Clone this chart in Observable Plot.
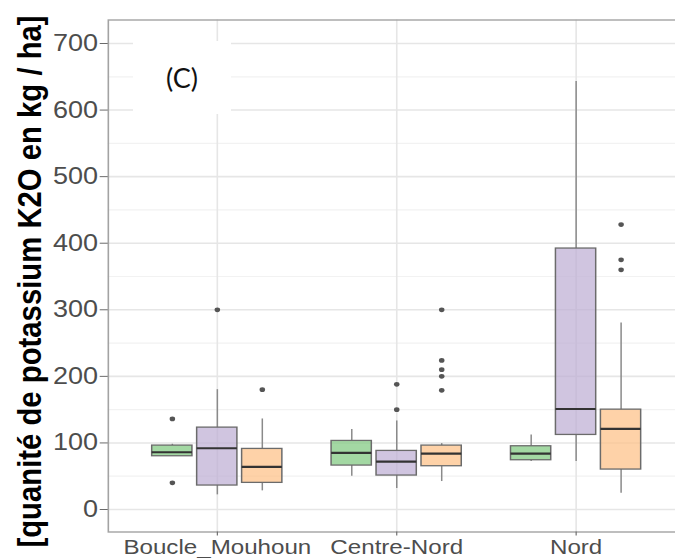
<!DOCTYPE html>
<html>
<head>
<meta charset="utf-8">
<script src="https://cdn.jsdelivr.net/npm/d3@7"></script>
<script src="https://cdn.jsdelivr.net/npm/@observablehq/plot@0.6"></script>
<style>
  html, body { margin: 0; padding: 0; background: #fff; }
  #wrap { position: relative; width: 675px; height: 558px; overflow: hidden; background: #fff; }
  #wrap svg { position: absolute; left: 0; top: 0; font-family: "Liberation Sans", Arial, sans-serif; }
  #tag { position: absolute; left: 133px; top: 41px; width: 98px; height: 73px; background: #fff;
         display: flex; align-items: center; justify-content: center;
         font-family: Lato, "Open Sans", sans-serif; font-size: 27px; color: #111; }
</style>
</head>
<body>
<div id="wrap"><div id="tag">(C)</div></div>
<script>
// ---- data ----
const regions = ["Boucle_Mouhoun", "Centre-Nord", "Nord"];
const series = ["Série 1", "Série 2", "Série 3"];
const seriesColors = ["#7fc97f", "#beaed4", "#fdc086"];
const yTicks = [0, 100, 200, 300, 400, 500, 600, 700];
const yMinorTicks = [50, 150, 250, 350, 450, 550, 650];
const yLabel = "[quanité de potassium K2O en kg / ha]";

// box statistics per series, ordered like `regions`
const lowerWhisker = [[80, 50, 72], [22, 31.5, 72], [28, 42, 24.5]];
const quartile1    = [[80, 66, 74], [36, 51, 112], [40, 65, 60]];
const medianValue  = [[86, 85, 84], [92, 72, 151], [64, 84, 121]];
const quartile3    = [[96, 103, 95], [123, 88, 392], [91, 96, 150]];
const upperWhisker = [[98, 120, 112], [180, 133, 643], [136, 99, 280]];

// outliers: [region, value]
const outliers1 = [["Boucle_Mouhoun", 136], ["Boucle_Mouhoun", 40]];
const outliers2 = [["Boucle_Mouhoun", 300], ["Centre-Nord", 150], ["Centre-Nord", 188]];
const outliers3 = [["Boucle_Mouhoun", 180], ["Centre-Nord", 179], ["Centre-Nord", 200],
                   ["Centre-Nord", 210], ["Centre-Nord", 224], ["Centre-Nord", 300],
                   ["Nord", 360], ["Nord", 375], ["Nord", 428]];
const outlierSets = [outliers1, outliers2, outliers3];

// ---- build tables ----
const boxes = series.flatMap((s, k) => regions.map((r, i) => ({
  series: s, k, region: r,
  lo: lowerWhisker[k][i], q1: quartile1[k][i], med: medianValue[k][i],
  q3: quartile3[k][i], hi: upperWhisker[k][i]
})));
const outs = outlierSets.flatMap((set, k) => set.map(([region, value]) => ({k, region, value})));

// ---- layout ----
const stretch = 1.15;           // the reference is stretched horizontally
const H = 558;
const W = 596;                  // internal width (panel runs past the right edge)
const dodge = 39.1;

const seriesMarks = series.flatMap((s, k) => {
  const d = boxes.filter(b => b.k === k);
  const o = outs.filter(b => b.k === k);
  const dx = (k - 1) * dodge;
  return [
    Plot.ruleX(d, {x: "region", y1: "lo", y2: "q1", stroke: "#8a8a8a", strokeWidth: 1.3, dx}),
    Plot.ruleX(d, {x: "region", y1: "q3", y2: "hi", stroke: "#8a8a8a", strokeWidth: 1.3, dx}),
    Plot.barY(d, {x: "region", y1: "q1", y2: "q3", fill: seriesColors[k], fillOpacity: 0.72,
                  stroke: "#6b6b6b", strokeWidth: 1.3, dx}),
    Plot.tickY(d, {x: "region", y: "med", stroke: "#333", strokeWidth: 2.2, dx}),
    Plot.dot(o, {x: "region", y: "value", r: 2.4, fill: "#555", stroke: null, dx})
  ];
});

const chart = Plot.plot({
  width: W,
  height: H,
  marginLeft: 93.7,
  marginRight: 0,
  marginTop: 19.5,
  marginBottom: 26.5,
  style: {fontFamily: "Liberation Sans, Arial, sans-serif", background: "transparent"},
  x: {type: "band", domain: regions, paddingInner: 0.773, paddingOuter: 0.4865, align: 0.5, axis: null},
  y: {domain: [-33.8, 735.3], axis: null},
  marks: [
    Plot.ruleY(yMinorTicks, {stroke: "#f2f2f2", strokeWidth: 1.2}),
    Plot.ruleY(yTicks, {stroke: "#e6e6e6", strokeWidth: 1.6}),
    Plot.ruleX(regions, {x: d => d, stroke: "#e6e6e6", strokeWidth: 1.4}),
    ...seriesMarks,
    Plot.frame({stroke: "#a3a3a3", strokeWidth: 1.4}),
    Plot.axisY({ticks: yTicks, tickSize: 7, tickPadding: 2, stroke: "#6a6a6a",
                fill: "#4d4d4d", fontSize: 23.5, label: null}),
    Plot.axisX({tickSize: 4, tickPadding: 3, stroke: "#6a6a6a", fill: "#4d4d4d",
                fontSize: 21, label: null}),
    Plot.text([yLabel], {text: d => d, frameAnchor: "left", textAnchor: "middle", lineAnchor: "middle",
                         rotate: -90, dx: -67.5, dy: 5.5,
                         fontFamily: "Liberation Sans, Arial, sans-serif",
                         fontSize: 29.3, fontWeight: "bold", fill: "#000"})
  ]
});

chart.setAttribute("preserveAspectRatio", "none");
chart.setAttribute("width", W * stretch);
chart.setAttribute("height", H);
chart.style.maxWidth = "none";
chart.style.width = (W * stretch) + "px";
chart.style.height = H + "px";
const wrap = document.getElementById("wrap");
wrap.insertBefore(chart, wrap.firstChild);
</script>
</body>
</html>
